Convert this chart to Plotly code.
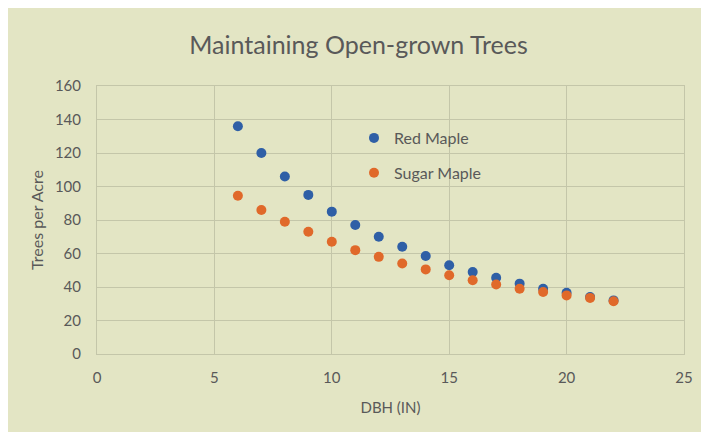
import plotly.graph_objects as go

dbh = [6, 7, 8, 9, 10, 11, 12, 13, 14, 15, 16, 17, 18, 19, 20, 21, 22]
red_maple = [136, 120, 106, 95, 85, 77, 70, 64, 58.5, 53, 49, 45.5, 42, 39, 36.5, 34, 32]
sugar_maple = [94.5, 86, 79, 73, 67, 62, 58, 54, 50.5, 47, 44, 41.5, 39, 37, 35, 33.5, 31.5]

x_ticks = [0, 5, 10, 15, 20, 25]
y_ticks = [0, 20, 40, 60, 80, 100, 120, 140, 160]

BG = "#E3E5C4"
GRID = "#C4C6A9"
TXT = "#595959"
FONT = "Lato"

fig = go.Figure()
fig.add_trace(go.Scatter(x=dbh, y=red_maple, mode="markers", name="Red Maple",
                         legendgroup="red",
                         marker=dict(color="#2F5FA6", size=10)))
fig.add_trace(go.Scatter(x=dbh, y=sugar_maple, mode="markers", name="Sugar Maple",
                         legendgroup="sugar",
                         marker=dict(color="#E0692A", size=10)))

W, H = 701, 424
L, R, T, B = 89, 25, 78, 78
pw, ph = W - L - R, H - T - B

def px(xp):
    return (xp - L) / pw

def py(yp):
    return (H - B - yp) / ph

fig.update_layout(
    width=W, height=H,
    margin=dict(l=L, r=R, t=T, b=B),
    paper_bgcolor=BG,
    plot_bgcolor=BG,
    title=dict(text="Maintaining Open-grown Trees", x=0.5, xref="container", xanchor="center",
               y=1 - 37 / H, yanchor="middle",
               font=dict(family=FONT, size=25, color=TXT)),
    legend=dict(x=px(346), y=py(113), xanchor="left", yanchor="top",
                font=dict(family=FONT, size=16, color=TXT), bgcolor="rgba(0,0,0,0)",
                borderwidth=0, tracegroupgap=11),
    xaxis=dict(range=[0, 25], tickvals=x_ticks, showgrid=True, gridcolor=GRID, gridwidth=1,
               showline=True, linecolor=GRID, linewidth=1, mirror=True, zeroline=False,
               ticks="outside", ticklen=10, tickcolor="rgba(0,0,0,0)",
               tickfont=dict(family=FONT, size=15, color=TXT),
               title=dict(text="DBH (IN)", font=dict(family=FONT, size=15, color=TXT), standoff=17)),
    yaxis=dict(range=[0, 160], tickvals=y_ticks, showgrid=True, gridcolor=GRID, gridwidth=1,
               showline=True, linecolor=GRID, linewidth=1, mirror=True, zeroline=False,
               ticks="outside", ticklen=12, tickcolor="rgba(0,0,0,0)",
               tickfont=dict(family=FONT, size=15, color=TXT),
               title=dict(text="Trees per Acre", font=dict(family=FONT, size=16, color=TXT), standoff=7)),
)

fig.write_html("out.html")
